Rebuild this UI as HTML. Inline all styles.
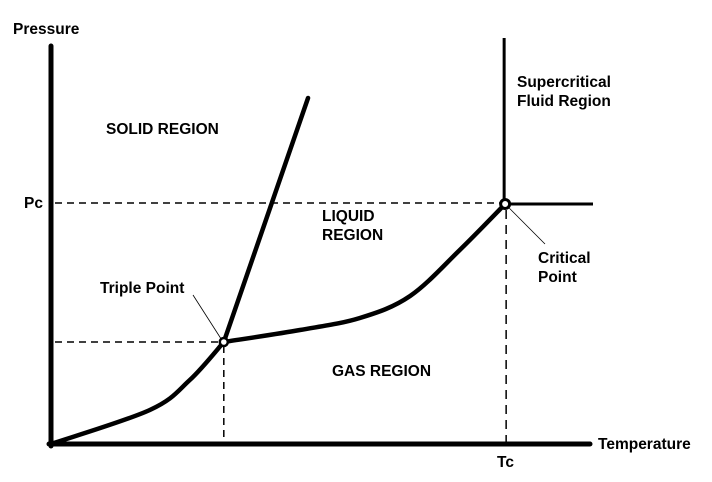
<!DOCTYPE html>
<html><head><meta charset="utf-8">
<style>
html,body{margin:0;padding:0;background:#fff;}
svg{display:block;}
text{font-family:"Liberation Sans",Arial,sans-serif;font-size:15.5px;fill:#000;}
</style></head>
<body>
<svg id="chart" width="712" height="482" viewBox="0 0 712 482" xmlns="http://www.w3.org/2000/svg">
<g id="marks"></g>
<text x="13" y="34" font-weight="bold">Pressure</text>
<text x="598" y="449" font-weight="bold">Temperature</text>
<text x="24" y="208" font-weight="bold">Pc</text>
<text x="497" y="467" font-weight="bold">Tc</text>
<text x="106" y="134" font-weight="bold">SOLID REGION</text>
<text x="322" y="221" font-weight="bold">LIQUID</text>
<text x="322" y="240" font-weight="bold">REGION</text>
<text x="332" y="376" font-weight="bold">GAS REGION</text>
<text x="517" y="87" font-weight="bold">Supercritical</text>
<text x="517" y="106" font-weight="bold">Fluid Region</text>
<text x="100" y="293" font-weight="bold">Triple Point</text>
<text x="538" y="263" font-weight="bold">Critical</text>
<text x="538" y="282" font-weight="bold">Point</text>
</svg>
<script>
const triplePoint = [32.0, 25.5];
const criticalPoint = [84.1, 60.0];
const sublimationT = [0, 18.3, 25.7, 32.0];
const sublimationP = [0, 8.5, 16.0, 25.5];
const meltingT = [32.0, 47.6];
const meltingP = [25.5, 86.5];
const vaporT = [32.0, 46.1, 57.2, 66.5, 75.7, 84.1];
const vaporP = [25.5, 28.5, 31.5, 37.0, 48.5, 60.0];
const axisMaxT = 100;
const axisMaxP = 100;

function xs(t){ return 51 + t * 5.4; }
function ys(p){ return 444 - p * 4; }

const NS = "http://www.w3.org/2000/svg";
const g = document.getElementById('marks');
function add(tag, attrs){
  const el = document.createElementNS(NS, tag);
  for (const k in attrs) el.setAttribute(k, attrs[k]);
  g.appendChild(el);
  return el;
}
function smoothPath(T, P){
  const pts = T.map((t,i)=>[xs(t), ys(P[i])]);
  let d = "M" + pts[0][0] + "," + pts[0][1];
  for (let i=0;i<pts.length-1;i++){
    const p0 = pts[i-1]||pts[i], p1=pts[i], p2=pts[i+1], p3=pts[i+2]||pts[i+1];
    const c1=[p1[0]+(p2[0]-p0[0])/6, p1[1]+(p2[1]-p0[1])/6];
    const c2=[p2[0]-(p3[0]-p1[0])/6, p2[1]-(p3[1]-p1[1])/6];
    d += " C"+c1[0]+","+c1[1]+" "+c2[0]+","+c2[1]+" "+p2[0]+","+p2[1];
  }
  return d;
}
const tx = xs(triplePoint[0]), ty = ys(triplePoint[1]);
const cx = xs(criticalPoint[0]), cy = ys(criticalPoint[1]);

let el;
el = add('line',{x1:55,y1:cy-1,x2:cx-4,y2:cy-1,stroke:'#000','stroke-width':1.5,'stroke-dasharray':'7,5'});


el = add('line',{x1:55,y1:ty,x2:tx-2,y2:ty,stroke:'#000','stroke-width':1.5,'stroke-dasharray':'7,5'});


el = add('line',{x1:tx,y1:ty+4,x2:tx,y2:444,stroke:'#000','stroke-width':1.5,'stroke-dasharray':'7,5'});


el = add('line',{x1:cx+1,y1:cy+6,x2:cx+1,y2:444,stroke:'#000','stroke-width':1.5,'stroke-dasharray':'9,6'});



el = add('line',{x1:51,y1:46,x2:51,y2:446,stroke:'#000','stroke-width':5,'stroke-linecap':'round'});


el = add('line',{x1:49,y1:444,x2:xs(axisMaxT)-1,y2:444,stroke:'#000','stroke-width':5,'stroke-linecap':'round'});



el = add('path',{d:smoothPath(sublimationT,sublimationP),fill:'none',stroke:'#000','stroke-width':4.5,'stroke-linecap':'round'});


el = add('line',{x1:xs(meltingT[0]),y1:ys(meltingP[0]),x2:xs(meltingT[1]),y2:ys(meltingP[1]),stroke:'#000','stroke-width':4.5,'stroke-linecap':'round'});


el = add('path',{d:smoothPath(vaporT,vaporP),fill:'none',stroke:'#000','stroke-width':4.5,'stroke-linecap':'round'});



el = add('line',{x1:cx-1,y1:38,x2:cx-1,y2:cy,stroke:'#000','stroke-width':3});


el = add('line',{x1:cx,y1:cy,x2:593,y2:cy,stroke:'#000','stroke-width':3});



el = add('line',{x1:193,y1:295,x2:tx-2,y2:ty-2,stroke:'#000','stroke-width':0.8});


el = add('line',{x1:cx+3,y1:cy+3,x2:545,y2:244,stroke:'#000','stroke-width':0.8});



el = add('circle',{cx:tx,cy:ty,r:4,fill:'#fff',stroke:'#000','stroke-width':2.5});


el = add('circle',{cx:cx,cy:cy,r:4.5,fill:'#fff',stroke:'#000','stroke-width':3});


</script>
</body></html>
